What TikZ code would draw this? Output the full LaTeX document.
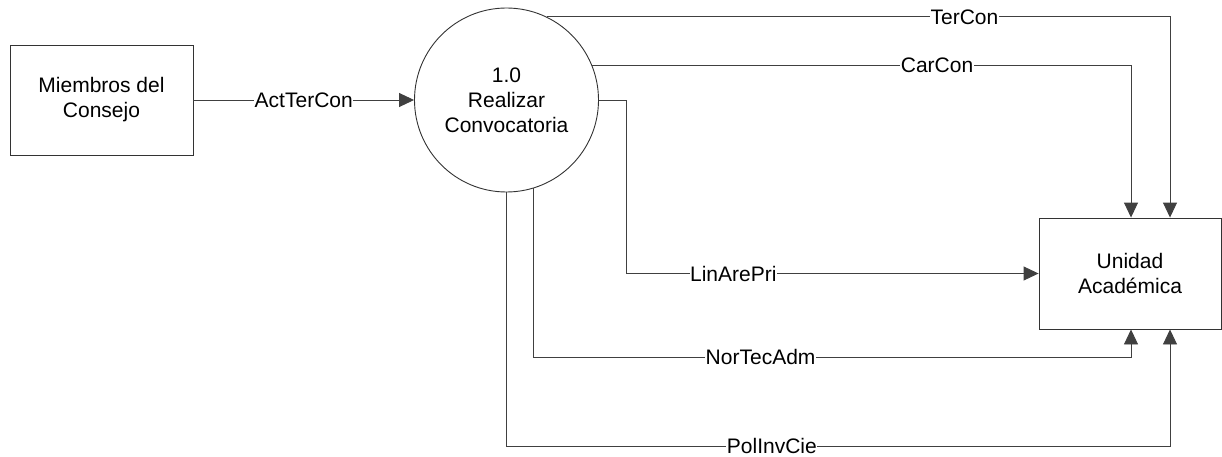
\documentclass[tikz,border=0pt]{standalone}
\usepackage{fontspec}
\setmainfont{Liberation Sans}
\usetikzlibrary{arrows.meta,calc}
\begin{document}
\begin{tikzpicture}[x=1pt,y=-1pt,
  every node/.style={font=\fontsize{21}{25}\selectfont},
  ent/.style={draw=black!80,line width=0.9pt,minimum width=183pt,minimum height=110pt,align=center,inner sep=0pt},
  proc/.style={draw=black!80,line width=0.9pt,circle,minimum size=184pt,align=center,inner sep=0pt},
  flow/.style={draw=black!75,line width=0.9pt,-{Triangle[length=15pt,width=14pt]}},
  lab/.style={fill=white,inner sep=0.5pt}]
\useasboundingbox (0,0) rectangle (1222,457);
\node[ent] (m) at (101.5,100) {Miembros del\\Consejo};
\node[proc] (p) at (506.5,100) {1.0\\Realizar\\Convocatoria};
\node[ent,minimum width=182pt,minimum height=111pt] (u) at (1130,273.5) {Unidad\\Académica};
\coordinate (xa) at (1131,0);
\coordinate (xb) at (1170,0);
\coordinate (xl) at (626,0);
\coordinate (yn) at (0,357);
\coordinate (yp) at (0,446);
% ActTerCon
\draw[flow] (m.east) -- node[lab,pos=0.5] {ActTerCon} (p.west);
% TerCon
\draw[flow] (p.64) -- node[lab,pos=0.67] {TerCon} (p.64 -| xb) -- (xb |- u.north);
% CarCon
\draw[flow] (p.22) -- node[lab,pos=0.64] {CarCon} (p.22 -| xa) -- (xa |- u.north);
% LinArePri
\draw[flow] (p.east) -- (xl |- p.east) -- (xl |- u.west) -- node[lab,pos=0.26] {LinArePri} (u.west);
% NorTecAdm
\draw[flow] (p.-73.3) -- (p.-73.3 |- yn) -- node[lab,pos=0.38] {NorTecAdm} (xa |- yn) -- (xa |- u.south);
% PolInvCie
\draw[flow] (p.south) -- (p.south |- yp) -- node[lab,pos=0.40] {PolInvCie} (xb |- yp) -- (xb |- u.south);
\end{tikzpicture}
\end{document}
